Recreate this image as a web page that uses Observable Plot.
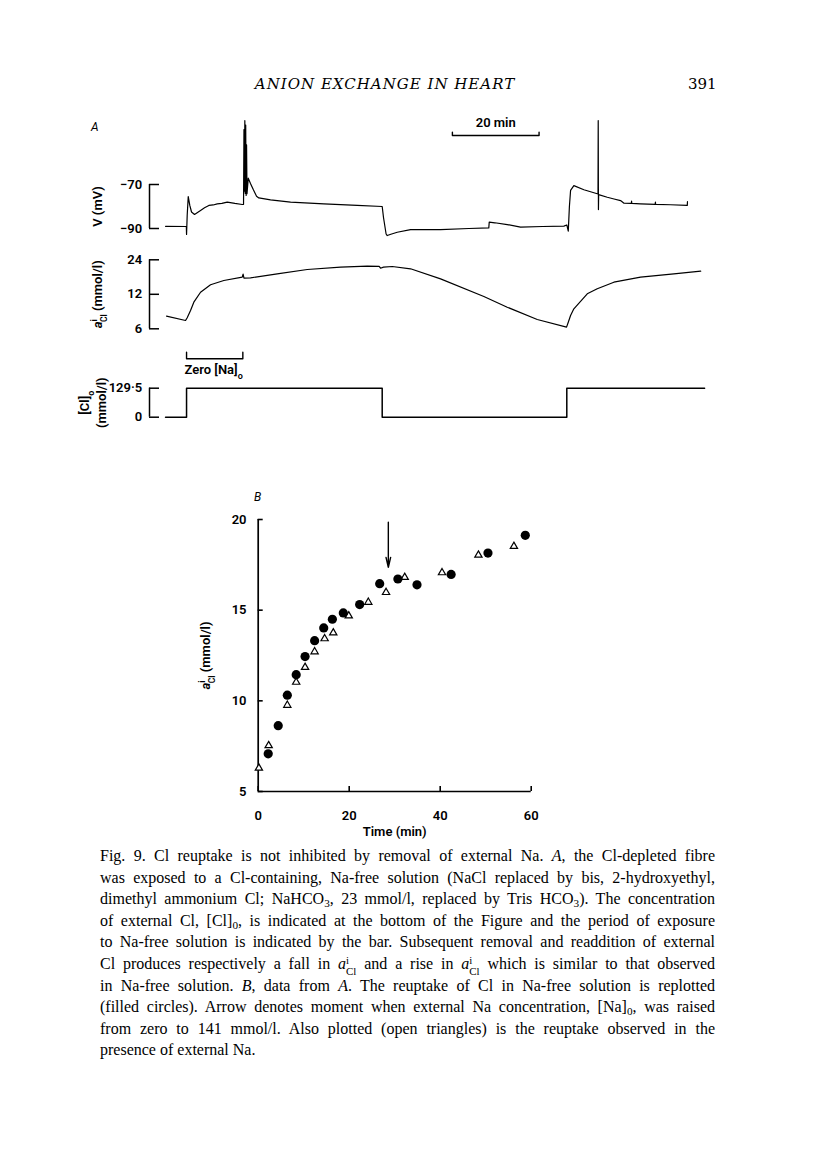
<!DOCTYPE html>
<html><head><meta charset="utf-8">
<script src="https://cdn.jsdelivr.net/npm/d3@7"></script>
<script src="https://cdn.jsdelivr.net/npm/@observablehq/plot@0.6"></script>
<style>
html,body{margin:0;padding:0;background:#fff;}
body{width:816px;height:1163px;position:relative;overflow:hidden;color:#000;}
.abs{position:absolute;}
.pbox{position:absolute;left:0;width:816px;}
.pbox svg{display:block;background:none !important;max-width:none !important;}
.header{font-family:"DejaVu Serif",serif;font-style:italic;font-size:15px;letter-spacing:1px;}
.pageno{font-family:"DejaVu Serif",serif;font-size:15px;}
.panel{font-family:Roboto,"Liberation Sans",sans-serif;font-style:italic;font-size:12px;}
.caption{position:absolute;left:100px;top:845px;width:615px;font-family:"Liberation Serif",serif;font-size:16px;}
.caption div{height:21.6px;line-height:21.6px;text-align:justify;text-align-last:justify;white-space:nowrap;}
.caption div.last{text-align-last:left;}
.caption sub{font-size:0.7em;line-height:0;vertical-align:-0.3em;}
.ss{display:inline-block;font-size:0.68em;line-height:1;vertical-align:-0.55em;text-align:left;}
.ss span{display:block;}
</style></head>
<body>
<div class="abs header" style="left:185px;width:400px;text-align:center;top:75px">ANION EXCHANGE IN HEART</div>
<div class="abs pageno" style="left:688px;top:75px">391</div>
<div class="abs panel" style="left:91px;top:120px">A</div>
<div class="abs panel" style="left:254px;top:490px">B</div>
<div id="scalebar" class="pbox" style="top:112px"></div>
<div id="vplot" class="pbox" style="top:110px"></div>
<div id="aplot" class="pbox" style="top:250px"></div>
<div id="naplot" class="pbox" style="top:345px"></div>
<div id="clplot" class="pbox" style="top:380px"></div>
<div id="bplot" class="pbox" style="top:500px"></div>
<div class="caption">
<div>Fig. 9. Cl reuptake is not inhibited by removal of external Na. <i>A</i>, the Cl-depleted fibre</div>
<div>was exposed to a Cl-containing, Na-free solution (NaCl replaced by bis, 2-hydroxyethyl,</div>
<div>dimethyl ammonium Cl; NaHCO<sub>3</sub>, 23 mmol/l, replaced by Tris HCO<sub>3</sub>). The concentration</div>
<div>of external Cl, [Cl]<sub>0</sub>, is indicated at the bottom of the Figure and the period of exposure</div>
<div>to Na-free solution is indicated by the bar. Subsequent removal and readdition of external</div>
<div>Cl produces respectively a fall in <i>a</i><span class="ss"><span>i</span><span>Cl</span></span> and a rise in <i>a</i><span class="ss"><span>i</span><span>Cl</span></span> which is similar to that observed</div>
<div>in Na-free solution. <i>B</i>, data from <i>A</i>. The reuptake of Cl in Na-free solution is replotted</div>
<div>(filled circles). Arrow denotes moment when external Na concentration, [Na]<sub>0</sub>, was raised</div>
<div>from zero to 141 mmol/l. Also plotted (open triangles) is the reuptake observed in the</div>
<div class="last">presence of external Na.</div>
</div>
<script>
// ---------- Panel A data (time in min from start of record) ----------
const vTime = [0, 4.8, 4.85, 5.0, 5.24, 5.6, 6.0, 6.69, 7.3, 8.08, 9.0, 10.0, 11.0, 11.93, 13.0, 14.24, 16.0, 17.7, 18.0, 18.1, 18.2, 18.3, 18.4, 18.5, 18.6, 18.7, 18.8, 19.09, 19.6, 20.3, 21.0, 21.53, 24.23, 28.85, 36.53, 44.24, 50.0, 50.3, 50.9, 51.16, 52.0, 53.47, 56.54, 63.47, 70.0, 74.6, 74.7, 76.0, 78.86, 81.93, 87.0, 91.92, 92.6, 92.94, 93.2, 93.47, 94.23, 96.54, 99.63, 99.8, 99.85, 99.9, 99.95, 101.94, 103.5, 105.0, 105.8, 107.5, 107.55, 107.6, 109.6, 113.0, 113.05, 113.1, 116.5, 120.4, 120.45];
const vValue = [-89.0, -89.1, -92.7, -84, -75.5, -79.5, -82.5, -83.6, -82.8, -81.8, -80.6, -79.5, -79.3, -78.8, -78.6, -78.0, -78.6, -79.1, -79.0, -45, -73, -41, -74, -43, -75, -52, -74.2, -67.1, -69.5, -72.5, -75.3, -76.1, -77.0, -78.0, -78.8, -79.5, -80.0, -85, -92.5, -93.2, -92.6, -91.7, -90.5, -90.5, -90.0, -89.7, -87.1, -87.4, -88.2, -89.4, -89.1, -88.9, -88.4, -91.2, -80, -72.7, -70.5, -72.4, -74.2, -74.3, -40.9, -81.4, -74.6, -75.8, -76.6, -77.3, -78.5, -78.6, -77.6, -78.6, -78.8, -79.0, -78.0, -79.0, -79.2, -79.5, -77.8];
const vTicks = [-70, -90];

const aclTime = [0.23, 4.62, 5.0, 5.77, 6.53, 8.08, 10.39, 13.45, 17.7, 17.9, 18.1, 19.62, 25.78, 32.7, 40.39, 46.55, 49.3, 49.62, 50.3, 52.32, 56.54, 63.47, 73.46, 78.86, 85.78, 92.54, 92.94, 93.47, 94.23, 97.32, 99.63, 103.46, 109.62, 117.31, 123.5];
const aclValue = [7.73, 7.09, 7.5, 8.67, 10.24, 12.51, 14.53, 15.83, 16.92, 18.0, 16.6, 16.71, 18.12, 19.75, 20.69, 21.1, 21.0, 20.27, 20.7, 20.98, 20.03, 16.37, 11.49, 9.26, 7.23, 6.2, 6.85, 7.83, 8.97, 12.12, 13.4, 15.3, 16.92, 18.12, 19.08];
const aclTicks = [24, 12, 6];

const clTime = [0, 4.85, 50.0, 92.6, 124.4];
const clValue = [0, 129.5, 0, 129.5, 129.5];
const clTicks = [129.5, 0];

const naFreeStart = 4.85, naFreeEnd = 17.84;     // "Zero [Na]o" period (min)
const scaleBarStart = 66.2, scaleBarLength = 20;  // "20 min" calibration bar

// ---------- Panel B data ----------
const circleTime = [2.2, 4.4, 6.4, 8.35, 10.3, 12.4, 14.4, 16.3, 18.7, 22.3, 26.7, 30.7, 34.9, 42.4, 50.5, 58.7];
const circleValue = [7.08, 8.63, 10.31, 11.44, 12.44, 13.32, 14.02, 14.5, 14.85, 15.31, 16.46, 16.72, 16.4, 16.97, 18.15, 19.13];
const triangleTime = [0.15, 2.3, 6.4, 8.35, 10.3, 12.4, 14.6, 16.5, 19.9, 24.2, 28.1, 32.2, 40.4, 48.4, 56.2];
const triangleValue = [6.29, 7.53, 9.76, 11.03, 11.85, 12.71, 13.43, 13.75, 14.69, 15.44, 15.98, 16.81, 17.07, 18.04, 18.52];
const arrowTime = 28.6, arrowFrom = 19.85, arrowTo = 17.36;
const bXTicks = [0, 20, 40, 60];
const bYTicks = [5, 10, 15, 20];

// ---------- helpers ----------
const font = {fontFamily: "Roboto, 'Liberation Sans', sans-serif", fontSize: "13px", fontWeight: 600, background: "none", overflow: "visible"};
const aDomain = [-3.7, 125];
const aLayout = {width: 816, marginLeft: 149, marginRight: 109.3};
function rich(svg, plain, html) {
  svg.querySelectorAll("text, tspan").forEach(el => {
    if (el.children.length === 0 && el.textContent.trim() === plain) el.innerHTML = html;
  });
}
function put(id, svg) { document.getElementById(id).appendChild(svg); }
const toRows = (xs, ys) => xs.map((x, i) => ({t: x, v: ys[i]}));
const aSub = `<tspan font-style="italic">a</tspan><tspan font-size="9" baseline-shift="super">i</tspan><tspan font-size="8.5" baseline-shift="sub" dx="-2.8">Cl</tspan> (mmol/l)`;
const bracket = (ticks) => Plot.ruleX([aDomain[0]], {y1: d3.min(ticks), y2: d3.max(ticks), strokeWidth: 1.5});

// scale bar
put("scalebar", Plot.plot({
  ...aLayout, height: 30, marginTop: 19.7, marginBottom: 7, style: font,
  x: {domain: aDomain, axis: null}, y: {domain: [0, 1], axis: null},
  marks: [
    Plot.line([{t: scaleBarStart, y: 1}, {t: scaleBarStart, y: 0}, {t: scaleBarStart + scaleBarLength, y: 0}, {t: scaleBarStart + scaleBarLength, y: 1}], {x: "t", y: "y", strokeWidth: 1.4}),
    Plot.text(["20 min"], {x: [scaleBarStart + scaleBarLength / 2], y: [1], dy: -5, lineAnchor: "bottom"})
  ]
}));

// membrane potential
put("vplot", Plot.plot({
  ...aLayout, height: 140, marginTop: 74, marginBottom: 22, style: font,
  x: {domain: aDomain, axis: null}, y: {domain: [-90, -70]},
  marks: [
    Plot.axisY({ticks: vTicks, tickSize: -10, tickPadding: 17.3, strokeWidth: 1.5,
      tickFormat: d => "\u2212" + Math.abs(d), label: "V (mV)", labelAnchor: "center", labelOffset: 57, labelArrow: "none"}),
    bracket(vTicks),
    Plot.line(toRows(vTime, vValue), {x: "t", y: "v", strokeWidth: 1.2})
  ]
}));

// intracellular Cl activity (log scale)
const ap = Plot.plot({
  ...aLayout, height: 90, marginTop: 9.3, marginBottom: 11.7, style: font,
  x: {domain: aDomain, axis: null}, y: {type: "log", domain: [6, 24]},
  marks: [
    Plot.axisY({ticks: aclTicks, tickSize: -10, tickPadding: 17.3, strokeWidth: 1.5,
      tickFormat: d => String(d), label: "aiCl (mmol/l)", labelAnchor: "center", labelOffset: 57, labelArrow: "none"}),
    bracket(aclTicks),
    Plot.line(toRows(aclTime, aclValue), {x: "t", y: "v", strokeWidth: 1.2})
  ]
});
rich(ap, "aiCl (mmol/l)", aSub);
put("aplot", ap);

// zero Na bar
const np = Plot.plot({
  ...aLayout, height: 35, marginTop: 6.7, marginBottom: 21.7, style: font,
  x: {domain: aDomain, axis: null}, y: {domain: [0, 1], axis: null},
  marks: [
    Plot.line([{t: naFreeStart, y: 1}, {t: naFreeStart, y: 0}, {t: naFreeEnd, y: 0}, {t: naFreeEnd, y: 1}], {x: "t", y: "y", strokeWidth: 1.4}),
    Plot.text(["Zero [Na]o"], {x: [naFreeStart], y: [0], dx: -2, dy: 6, textAnchor: "start", lineAnchor: "top"})
  ]
});
rich(np, "Zero [Na]o", `Zero [Na]<tspan font-size="9" baseline-shift="sub">o</tspan>`);
put("naplot", np);

// external Cl
const cp = Plot.plot({
  ...aLayout, height: 45, marginTop: 7.7, marginBottom: 8.3, style: font,
  x: {domain: aDomain, axis: null}, y: {domain: [0, 129.5]},
  marks: [
    Plot.axisY({ticks: clTicks, tickSize: -10, tickPadding: 17.3, strokeWidth: 1.5,
      tickFormat: d => String(d).replace(".", "\u00b7"), label: "[Cl]o\n(mmol/l)", labelAnchor: "center", labelOffset: 70, labelArrow: "none"}),
    bracket(clTicks),
    Plot.line(toRows(clTime, clValue), {x: "t", y: "v", curve: "step-after", strokeWidth: 1.5})
  ]
});
cp.querySelectorAll("tspan").forEach(el => {
  if (el.textContent.trim() === "(mmol/l)") el.setAttribute("dy", "1.3em");
});
rich(cp, "[Cl]o", `[Cl]<tspan font-size="9" baseline-shift="sub">o</tspan>`);
put("clplot", cp);

// Panel B
const bp = Plot.plot({
  width: 816, height: 341, marginLeft: 257.7, marginRight: 285.3, marginTop: 19, marginBottom: 50, style: font,
  x: {domain: [0, 60]}, y: {domain: [5, 20]},
  marks: [
    Plot.axisX({ticks: bXTicks, tickSize: -5, tickPadding: 24, strokeWidth: 1.6,
      label: "Time (min)", labelAnchor: "center", labelOffset: 44, labelArrow: "none"}),
    Plot.axisY({ticks: bYTicks, tickSize: -5, tickPadding: 16.7, strokeWidth: 1.6,
      label: "aiCl (mmol/l)", labelAnchor: "center", labelOffset: 57, labelArrow: "none"}),
    Plot.ruleX([bXTicks[0]], {y1: bYTicks[0], y2: d3.max(bYTicks), strokeWidth: 1.7}),
    Plot.ruleY([bYTicks[0]], {x1: bXTicks[0], x2: d3.max(bXTicks), strokeWidth: 1.7}),
    Plot.dot(toRows(triangleTime, triangleValue), {x: "t", y: "v", symbol: "triangle", r: 2.7, fill: "white", stroke: "black", strokeWidth: 1.2}),
    Plot.dot(toRows(circleTime, circleValue), {x: "t", y: "v", r: 4.6, fill: "black", stroke: "none"}),
    Plot.arrow([{t: arrowTime, a: arrowFrom, b: arrowTo}], {x: "t", y1: "a", y2: "b", headAngle: 26, headLength: 11, strokeWidth: 1.4})
  ]
});
rich(bp, "aiCl (mmol/l)", aSub);
put("bplot", bp);
</script>
</body></html>
